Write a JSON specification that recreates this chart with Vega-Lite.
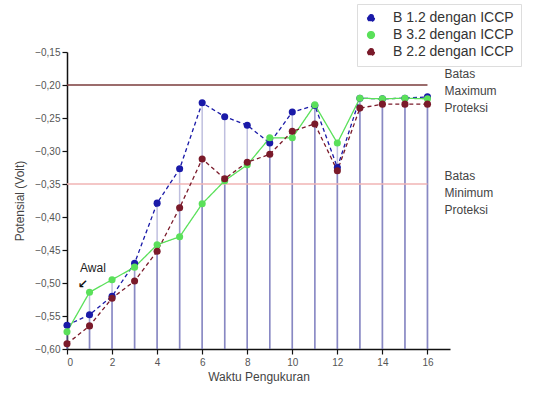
{
  "$schema": "https://vega.github.io/schema/vega-lite/v6.json",
  "width": 383,
  "height": 297,
  "autosize": {"type": "none"},
  "padding": {"left": 67, "top": 52, "right": 92, "bottom": 45},
  "background": "white",
  "config": {
    "font": "Liberation Sans",
    "view": {"stroke": null},
    "axis": {"grid": false, "domainColor": "#111", "domainWidth": 1.5, "tickColor": "#111", "tickWidth": 1.2, "labelColor": "#555", "labelFontSize": 10, "titleColor": "#444", "titleFontSize": 12, "titleFontWeight": "normal", "labelOverlap": false}
  },
  "datasets": {
    "pts": [
      {"x": 0, "series": "B 1.2 dengan ICCP", "v": -0.564},
      {"x": 1, "series": "B 1.2 dengan ICCP", "v": -0.548},
      {"x": 2, "series": "B 1.2 dengan ICCP", "v": -0.520},
      {"x": 3, "series": "B 1.2 dengan ICCP", "v": -0.470},
      {"x": 4, "series": "B 1.2 dengan ICCP", "v": -0.379},
      {"x": 5, "series": "B 1.2 dengan ICCP", "v": -0.327},
      {"x": 6, "series": "B 1.2 dengan ICCP", "v": -0.227},
      {"x": 7, "series": "B 1.2 dengan ICCP", "v": -0.248},
      {"x": 8, "series": "B 1.2 dengan ICCP", "v": -0.261},
      {"x": 9, "series": "B 1.2 dengan ICCP", "v": -0.288},
      {"x": 10, "series": "B 1.2 dengan ICCP", "v": -0.241},
      {"x": 11, "series": "B 1.2 dengan ICCP", "v": -0.231},
      {"x": 12, "series": "B 1.2 dengan ICCP", "v": -0.325},
      {"x": 13, "series": "B 1.2 dengan ICCP", "v": -0.220},
      {"x": 14, "series": "B 1.2 dengan ICCP", "v": -0.221},
      {"x": 15, "series": "B 1.2 dengan ICCP", "v": -0.220},
      {"x": 16, "series": "B 1.2 dengan ICCP", "v": -0.218},
      {"x": 0, "series": "B 3.2 dengan ICCP", "v": -0.574},
      {"x": 1, "series": "B 3.2 dengan ICCP", "v": -0.514},
      {"x": 2, "series": "B 3.2 dengan ICCP", "v": -0.495},
      {"x": 3, "series": "B 3.2 dengan ICCP", "v": -0.476},
      {"x": 4, "series": "B 3.2 dengan ICCP", "v": -0.442},
      {"x": 5, "series": "B 3.2 dengan ICCP", "v": -0.430},
      {"x": 6, "series": "B 3.2 dengan ICCP", "v": -0.380},
      {"x": 7, "series": "B 3.2 dengan ICCP", "v": -0.345},
      {"x": 8, "series": "B 3.2 dengan ICCP", "v": -0.321},
      {"x": 9, "series": "B 3.2 dengan ICCP", "v": -0.280},
      {"x": 10, "series": "B 3.2 dengan ICCP", "v": -0.280},
      {"x": 11, "series": "B 3.2 dengan ICCP", "v": -0.230},
      {"x": 12, "series": "B 3.2 dengan ICCP", "v": -0.288},
      {"x": 13, "series": "B 3.2 dengan ICCP", "v": -0.220},
      {"x": 14, "series": "B 3.2 dengan ICCP", "v": -0.221},
      {"x": 15, "series": "B 3.2 dengan ICCP", "v": -0.220},
      {"x": 16, "series": "B 3.2 dengan ICCP", "v": -0.221},
      {"x": 0, "series": "B 2.2 dengan ICCP", "v": -0.592},
      {"x": 1, "series": "B 2.2 dengan ICCP", "v": -0.565},
      {"x": 2, "series": "B 2.2 dengan ICCP", "v": -0.523},
      {"x": 3, "series": "B 2.2 dengan ICCP", "v": -0.497},
      {"x": 4, "series": "B 2.2 dengan ICCP", "v": -0.452},
      {"x": 5, "series": "B 2.2 dengan ICCP", "v": -0.386},
      {"x": 6, "series": "B 2.2 dengan ICCP", "v": -0.312},
      {"x": 7, "series": "B 2.2 dengan ICCP", "v": -0.342},
      {"x": 8, "series": "B 2.2 dengan ICCP", "v": -0.317},
      {"x": 9, "series": "B 2.2 dengan ICCP", "v": -0.305},
      {"x": 10, "series": "B 2.2 dengan ICCP", "v": -0.270},
      {"x": 11, "series": "B 2.2 dengan ICCP", "v": -0.259},
      {"x": 12, "series": "B 2.2 dengan ICCP", "v": -0.330},
      {"x": 13, "series": "B 2.2 dengan ICCP", "v": -0.235},
      {"x": 14, "series": "B 2.2 dengan ICCP", "v": -0.229},
      {"x": 15, "series": "B 2.2 dengan ICCP", "v": -0.229},
      {"x": 16, "series": "B 2.2 dengan ICCP", "v": -0.229}
    ]
  },
  "encoding": {
    "x": {"field": "x", "type": "quantitative", "scale": {"domain": [0, 17], "nice": false}, "axis": {"values": [0, 2, 4, 6, 8, 10, 12, 14, 16], "title": "Waktu Pengukuran", "tickSize": 5, "labelPadding": 3, "titlePadding": 4}},
    "y": {"field": "v", "type": "quantitative", "scale": {"domain": [-0.6, -0.15], "nice": false, "zero": false}, "axis": {"values": [-0.6, -0.55, -0.5, -0.45, -0.4, -0.35, -0.3, -0.25, -0.2, -0.15], "labelExpr": "replace(format(datum.value, '.2f'), '.', ',')", "title": "Potensial (Volt)", "tickSize": 5, "labelPadding": 2, "titlePadding": 8, "labelOverlap": false, "labelBound": false}}
  },
  "layer": [
    {
      "data": {"name": "pts"},
      "mark": {"type": "rule", "strokeWidth": 1.5, "opacity": 0.45, "color": "#7070b8"},
      "encoding": {"y2": {"datum": -0.6}}
    },
    {
      "data": {"values": [{"batas": "Maximum", "v": -0.2, "x": 0, "x_end": 16}]},
      "mark": {"type": "rule", "color": "#7a3b3b", "strokeWidth": 1.3},
      "encoding": {"x2": {"field": "x_end"}}
    },
    {
      "data": {"values": [{"batas": "Minimum", "v": -0.35, "x": 0, "x_end": 16}]},
      "mark": {"type": "rule", "color": "#f0b4b4", "strokeWidth": 1.3},
      "encoding": {"x2": {"field": "x_end"}}
    },
    {
      "data": {"name": "pts"},
      "mark": {"type": "line", "strokeWidth": 1.3},
      "encoding": {
        "color": {"field": "series", "type": "nominal", "scale": {"domain": ["B 1.2 dengan ICCP", "B 3.2 dengan ICCP", "B 2.2 dengan ICCP"], "range": ["#1a1aa8", "#5ae05a", "#7a1a2a"]}, "legend": {"title": null, "orient": "none", "legendX": 290, "legendY": -48, "labelFontSize": 14, "labelColor": "#333", "symbolSize": 45, "symbolType": "circle", "padding": 7, "rowPadding": 3, "strokeColor": "#ddd", "fillColor": "white", "labelOffset": 15}},
        "strokeDash": {"field": "series", "type": "nominal", "scale": {"domain": ["B 1.2 dengan ICCP", "B 3.2 dengan ICCP", "B 2.2 dengan ICCP"], "range": [[4, 3], [1, 0], [4, 3]]}, "legend": null}
      }
    },
    {
      "data": {"name": "pts"},
      "mark": {"type": "circle", "size": 50, "opacity": 1},
      "encoding": {"color": {"field": "series", "type": "nominal"}}
    },
    {
      "data": {"values": [{"label": "Batas\nMaximum\nProteksi", "x": 16.76, "v": -0.175}, {"label": "Batas\nMinimum\nProteksi", "x": 16.76, "v": -0.330}]},
      "mark": {"type": "text", "align": "left", "baseline": "top", "fontSize": 12, "color": "#444", "lineBreak": "\n", "lineHeight": 17},
      "encoding": {"text": {"field": "label"}}
    },
    {
      "data": {"values": [{"label": "Awal", "x": 0.58, "v": -0.477}]},
      "mark": {"type": "text", "align": "left", "baseline": "middle", "fontSize": 12, "color": "#222"},
      "encoding": {"text": {"field": "label"}}
    },
    {
      "data": {"values": [{"label": "↙", "x": 0.7, "v": -0.502}]},
      "mark": {"type": "text", "align": "center", "baseline": "middle", "fontSize": 12, "font": "DejaVu Sans", "fontWeight": "bold", "color": "#111"},
      "encoding": {"text": {"field": "label"}}
    }
  ]
}
